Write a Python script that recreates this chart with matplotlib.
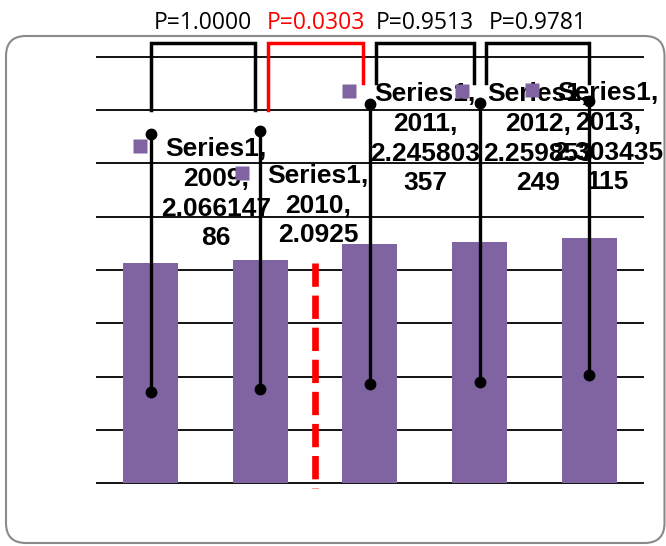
import numpy as np
import matplotlib
matplotlib.use("Agg")
import matplotlib.pyplot as plt
from matplotlib.patches import FancyBboxPatch
from matplotlib.transforms import IdentityTransform, offset_copy

# ---- data ----
series_name = "Series1"
categories = ["2009", "2010", "2011", "2012", "2013"]
values = [2.06614786, 2.0925, 2.245803357, 2.259853249, 2.303435115]
errors = [1.21, 1.21, 1.31, 1.31, 1.285]
p_values = [1.0000, 0.0303, 0.9513, 0.9781]
p_significant = [False, True, False, False]

# ---- layout / style (positions, not data) ----
bar_color = "#8064A2"
label_pos = [(0.597, 3.245), (1.527, 2.995), (2.506, 3.76), (3.532, 3.76), (4.17, 3.77)]
bracket_x = [(0.0, 0.95), (1.07, 1.94), (2.06, 2.95), (3.06, 4.0)]
bracket_legs = [(3.5, 3.5), (3.5, 3.753), (3.753, 3.753), (3.753, 3.753)]
bracket_top = 4.125
p_text_y = 4.32
ref_line_x = 1.5
ref_line_y = (2.07, -0.047)

fig = plt.figure(figsize=(6.66, 5.46), dpi=100)
ax = fig.add_axes([95.7 / 666, 0.0952, 548.3 / 666, 0.8206])
ax.set_xlim(-0.5, 4.5)
ax.set_ylim(-0.1, 4.1)

x = np.arange(len(categories))

# gridlines
ax.set_yticks(np.arange(0, 4.01, 0.5))
ax.yaxis.grid(True, color="black", lw=1.3, zorder=0)
ax.set_axisbelow(True)
ax.tick_params(left=False, labelleft=False, bottom=False, labelbottom=False)
for s in ax.spines.values():
    s.set_visible(False)

# bars
ax.bar(x, values, width=0.504, color=bar_color, zorder=2)

# reference dashed line
ax.plot([ref_line_x, ref_line_x], list(ref_line_y), color="red", lw=4.8,
        dashes=(16.8 / 4.8, 6.3 / 4.8), solid_capstyle="butt", zorder=3, clip_on=False)

# data labels
for i, (lx, ly) in enumerate(label_pos):
    vstr = str(values[i])
    chunks = [vstr[k:k + 8] for k in range(0, len(vstr), 8)]
    txt = "\n".join([f"{series_name},", f"{categories[i]},"] + chunks)
    ax.text(lx, ly, txt, ha="center", va="top", multialignment="center",
            family="Liberation Sans", fontweight="bold", fontsize=19,
            linespacing=1.3, zorder=4, clip_on=False)
    tr = offset_copy(ax.transData, fig=fig, x=-76, y=-9, units="dots")
    ax.plot([lx], [ly], marker="s", ms=9.5, color=bar_color, mec="none",
            transform=tr, zorder=4, clip_on=False)

# error bars
lows = [v - e for v, e in zip(values, errors)]
highs = [v + e for v, e in zip(values, errors)]
ax.vlines(x, lows, highs, color="black", lw=2.4, zorder=5, clip_on=False)
ax.plot(x, lows, "o", color="black", ms=7.5, zorder=5, clip_on=False)
ax.plot(x, highs, "o", color="black", ms=7.5, zorder=5, clip_on=False)

# brackets with p values
for (x0, x1), (b0, b1), p, sig in zip(bracket_x, bracket_legs, p_values, p_significant):
    c = "red" if sig else "black"
    ax.plot([x0, x0, x1, x1], [b0, bracket_top, bracket_top, b1], color=c, lw=2.5,
            solid_joinstyle="miter", zorder=6, clip_on=False)
    ax.text((x0 + x1) / 2, p_text_y, f"P={p:.4f}", ha="center", va="center",
            color=c, family="Open Sans", fontsize=16.5, zorder=6, clip_on=False)

# chart area border
box = FancyBboxPatch((6, 3), 658.5, 507, boxstyle="round,pad=0,rounding_size=20",
                     transform=IdentityTransform(), fill=False, ec="#8a8a8a", lw=1.5)
fig.patches.append(box)

fig.savefig("out.png", dpi=100)
